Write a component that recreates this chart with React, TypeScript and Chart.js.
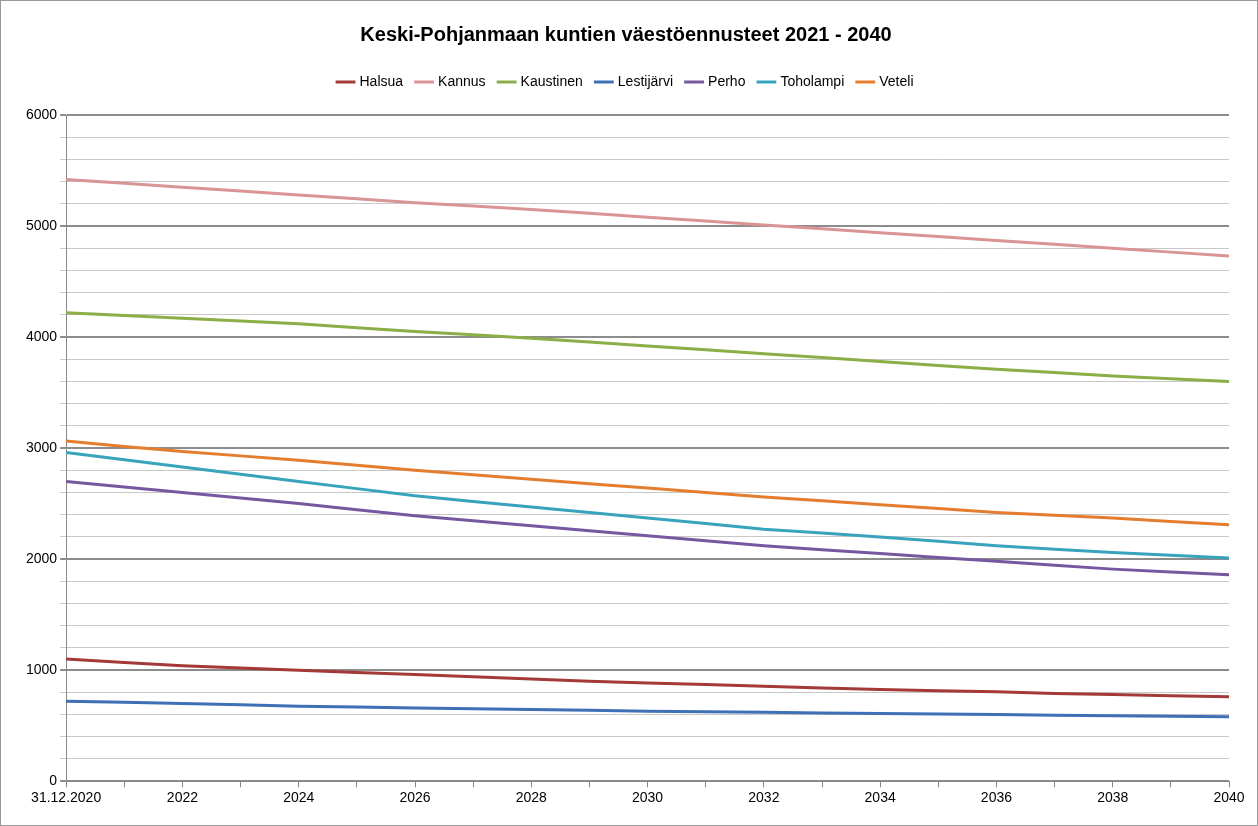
import { useRef, useEffect } from "react";
import { Chart, registerables } from "chart.js";

Chart.register(...registerables);

const years = ["31.12.2020", "2021", "2022", "2023", "2024", "2025", "2026", "2027", "2028", "2029", "2030",
  "2031", "2032", "2033", "2034", "2035", "2036", "2037", "2038", "2039", "2040"];

const halsua = [1100, 1070, 1040, 1020, 1000, 980, 960, 940, 920, 900, 885, 870, 855, 840, 825, 815, 805, 790, 780, 770, 760];
const kannus = [5420, 5385, 5350, 5315, 5280, 5245, 5210, 5180, 5150, 5115, 5080, 5045, 5010, 4975, 4940, 4905, 4870, 4835, 4800, 4765, 4730];
const kaustinen = [4220, 4195, 4170, 4145, 4120, 4085, 4050, 4020, 3990, 3955, 3920, 3885, 3850, 3815, 3780, 3745, 3710, 3680, 3650, 3625, 3600];
const lestijarvi = [720, 710, 700, 688, 675, 668, 660, 652, 645, 638, 630, 625, 620, 615, 610, 605, 600, 595, 590, 585, 580];
const perho = [2700, 2650, 2600, 2550, 2500, 2445, 2390, 2345, 2300, 2255, 2210, 2165, 2120, 2085, 2050, 2015, 1980, 1945, 1910, 1885, 1860];
const toholampi = [2960, 2895, 2830, 2765, 2700, 2635, 2570, 2520, 2470, 2420, 2370, 2320, 2270, 2235, 2200, 2160, 2120, 2090, 2060, 2035, 2010];
const veteli = [3065, 3015, 2970, 2930, 2890, 2845, 2800, 2760, 2720, 2680, 2640, 2600, 2560, 2525, 2490, 2455, 2420, 2395, 2370, 2340, 2310];

const series = [
  { label: "Halsua", data: halsua, color: "#a33a37" },
  { label: "Kannus", data: kannus, color: "#d99593" },
  { label: "Kaustinen", data: kaustinen, color: "#8bae46" },
  { label: "Lestijärvi", data: lestijarvi, color: "#3d70b5" },
  { label: "Perho", data: perho, color: "#7558a0" },
  { label: "Toholampi", data: toholampi, color: "#38a3bd" },
  { label: "Veteli", data: veteli, color: "#e47d2e" },
];

// extra gap under the legend
const legendGap = {
  id: "legendGap",
  beforeInit(chart: any) {
    const orig = chart.legend.fit;
    chart.legend.fit = function () {
      orig.bind(chart.legend)();
      this.height += 16;
    };
  },
};

export default function App() {
  const chartRef = useRef<HTMLCanvasElement | null>(null);

  useEffect(() => {
    document.body.style.margin = "0";
    const ctx = chartRef.current?.getContext("2d");
    if (!ctx) return;
    const font = "'Liberation Sans', Arial, sans-serif";
    const myChart = new Chart(ctx, {
      type: "line",
      plugins: [legendGap],
      data: {
        labels: years,
        datasets: series.map((s) => ({
          label: s.label,
          data: s.data,
          borderColor: s.color,
          backgroundColor: s.color,
          borderWidth: 3,
          pointRadius: 0,
          tension: 0,
        })),
      },
      options: {
        animation: false,
        responsive: false,
        layout: { padding: { left: 22, right: 28, top: 10, bottom: 15 } },
        plugins: {
          title: {
            display: true,
            text: "Keski-Pohjanmaan kuntien väestöennusteet 2021 - 2040",
            font: { family: font, size: 20, weight: "bold" },
            color: "#000",
            padding: { top: 12, bottom: 14 },
          },
          legend: {
            labels: {
              usePointStyle: true,
              pointStyle: "line",
              boxWidth: 36,
              font: { family: font, size: 14 },
              color: "#000",
              padding: 14,
            },
          },
          tooltip: { enabled: false },
        },
        scales: {
          x: {
            offset: false,
            grid: { drawOnChartArea: false, drawTicks: true, tickLength: 6, color: "#888" },
            border: { color: "#888" },
            ticks: {
              autoSkip: false,
              maxRotation: 0,
              color: "#000",
              font: { family: font, size: 14 },
              callback: (_v, i) => (i % 2 === 0 ? years[i] : ""),
            },
          },
          y: {
            min: 0,
            max: 6000,
            border: { color: "#888" },
            grid: {
              color: (c) => (c.tick.value % 1000 === 0 ? "#8c8c8c" : "#c8c8c8"),
              lineWidth: (c) => (c.tick.value % 1000 === 0 ? 2 : 1),
              tickLength: 6,
            },
            ticks: {
              stepSize: 200,
              autoSkip: false,
              color: "#000",
              font: { family: font, size: 14 },
              callback: (v) => (Number(v) % 1000 === 0 ? String(v) : ""),
            },
          },
        },
      },
    });
    return () => {
      myChart.destroy();
    };
  }, []);

  return (
    <div style={{ width: 1256, height: 824, border: "1px solid #999" }}>
      <canvas ref={chartRef} width={1256} height={824}></canvas>
    </div>
  );
}
